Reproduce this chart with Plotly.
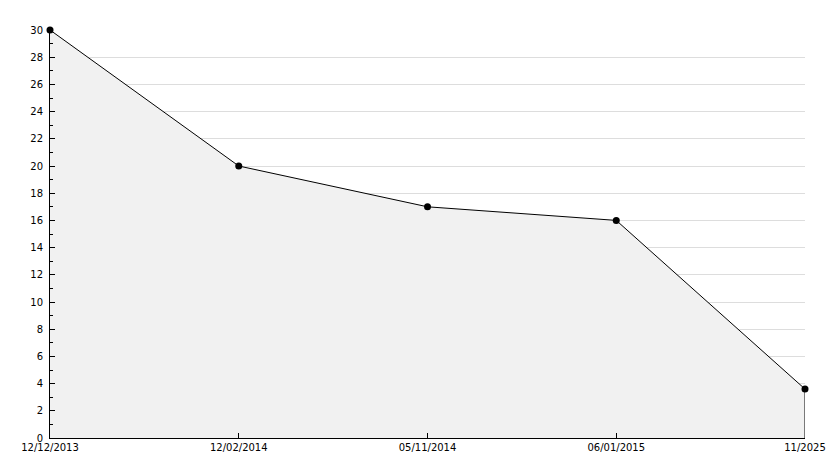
import plotly.graph_objects as go

categories = ["12/12/2013", "12/02/2014", "05/11/2014", "06/01/2015", "11/2025"]
values = [30, 20, 17, 16, 3.6]

fig = go.Figure()
fig.add_trace(go.Scatter(
    x=categories, y=values, mode="lines+markers",
    fill="tozeroy", fillcolor="#f1f1f1",
    line=dict(color="black", width=1),
    marker=dict(color="black", size=7, symbol="circle"),
    cliponaxis=False, hoverinfo="x+y", showlegend=False,
))
# closing edge of the area at the last category
fig.add_trace(go.Scatter(
    x=[categories[-1], categories[-1]], y=[0, values[-1]], mode="lines",
    line=dict(color="black", width=1), cliponaxis=False,
    hoverinfo="skip", showlegend=False,
))

font = dict(family="DejaVu Sans", size=10, color="black")
fig.update_layout(
    width=834, height=468,
    margin=dict(l=50, r=29, t=30, b=30, autoexpand=False),
    paper_bgcolor="white", plot_bgcolor="white",
    font=font,
    xaxis=dict(
        type="category", range=[0, len(categories) - 1],
        showgrid=False, zeroline=False, automargin=False,
        showline=True, linecolor="black", linewidth=1,
        ticks="inside", ticklen=5, tickcolor="black", tickwidth=1,
        tickfont=font,
    ),
    yaxis=dict(
        range=[0, 30], dtick=2, tick0=0, automargin=False,
        showgrid=True, gridcolor="#dddddd", gridwidth=1,
        zeroline=False,
        showline=True, linecolor="black", linewidth=1,
        ticks="inside", ticklen=5, tickcolor="black", tickwidth=1,
        minor=dict(dtick=1, ticks="inside", ticklen=3, tickcolor="black", showgrid=False),
        tickfont=font, ticklabelstandoff=4,
    ),
)
fig.write_html("out.html", config={"displayModeBar": False},
               post_script="document.body.style.margin='0';")
